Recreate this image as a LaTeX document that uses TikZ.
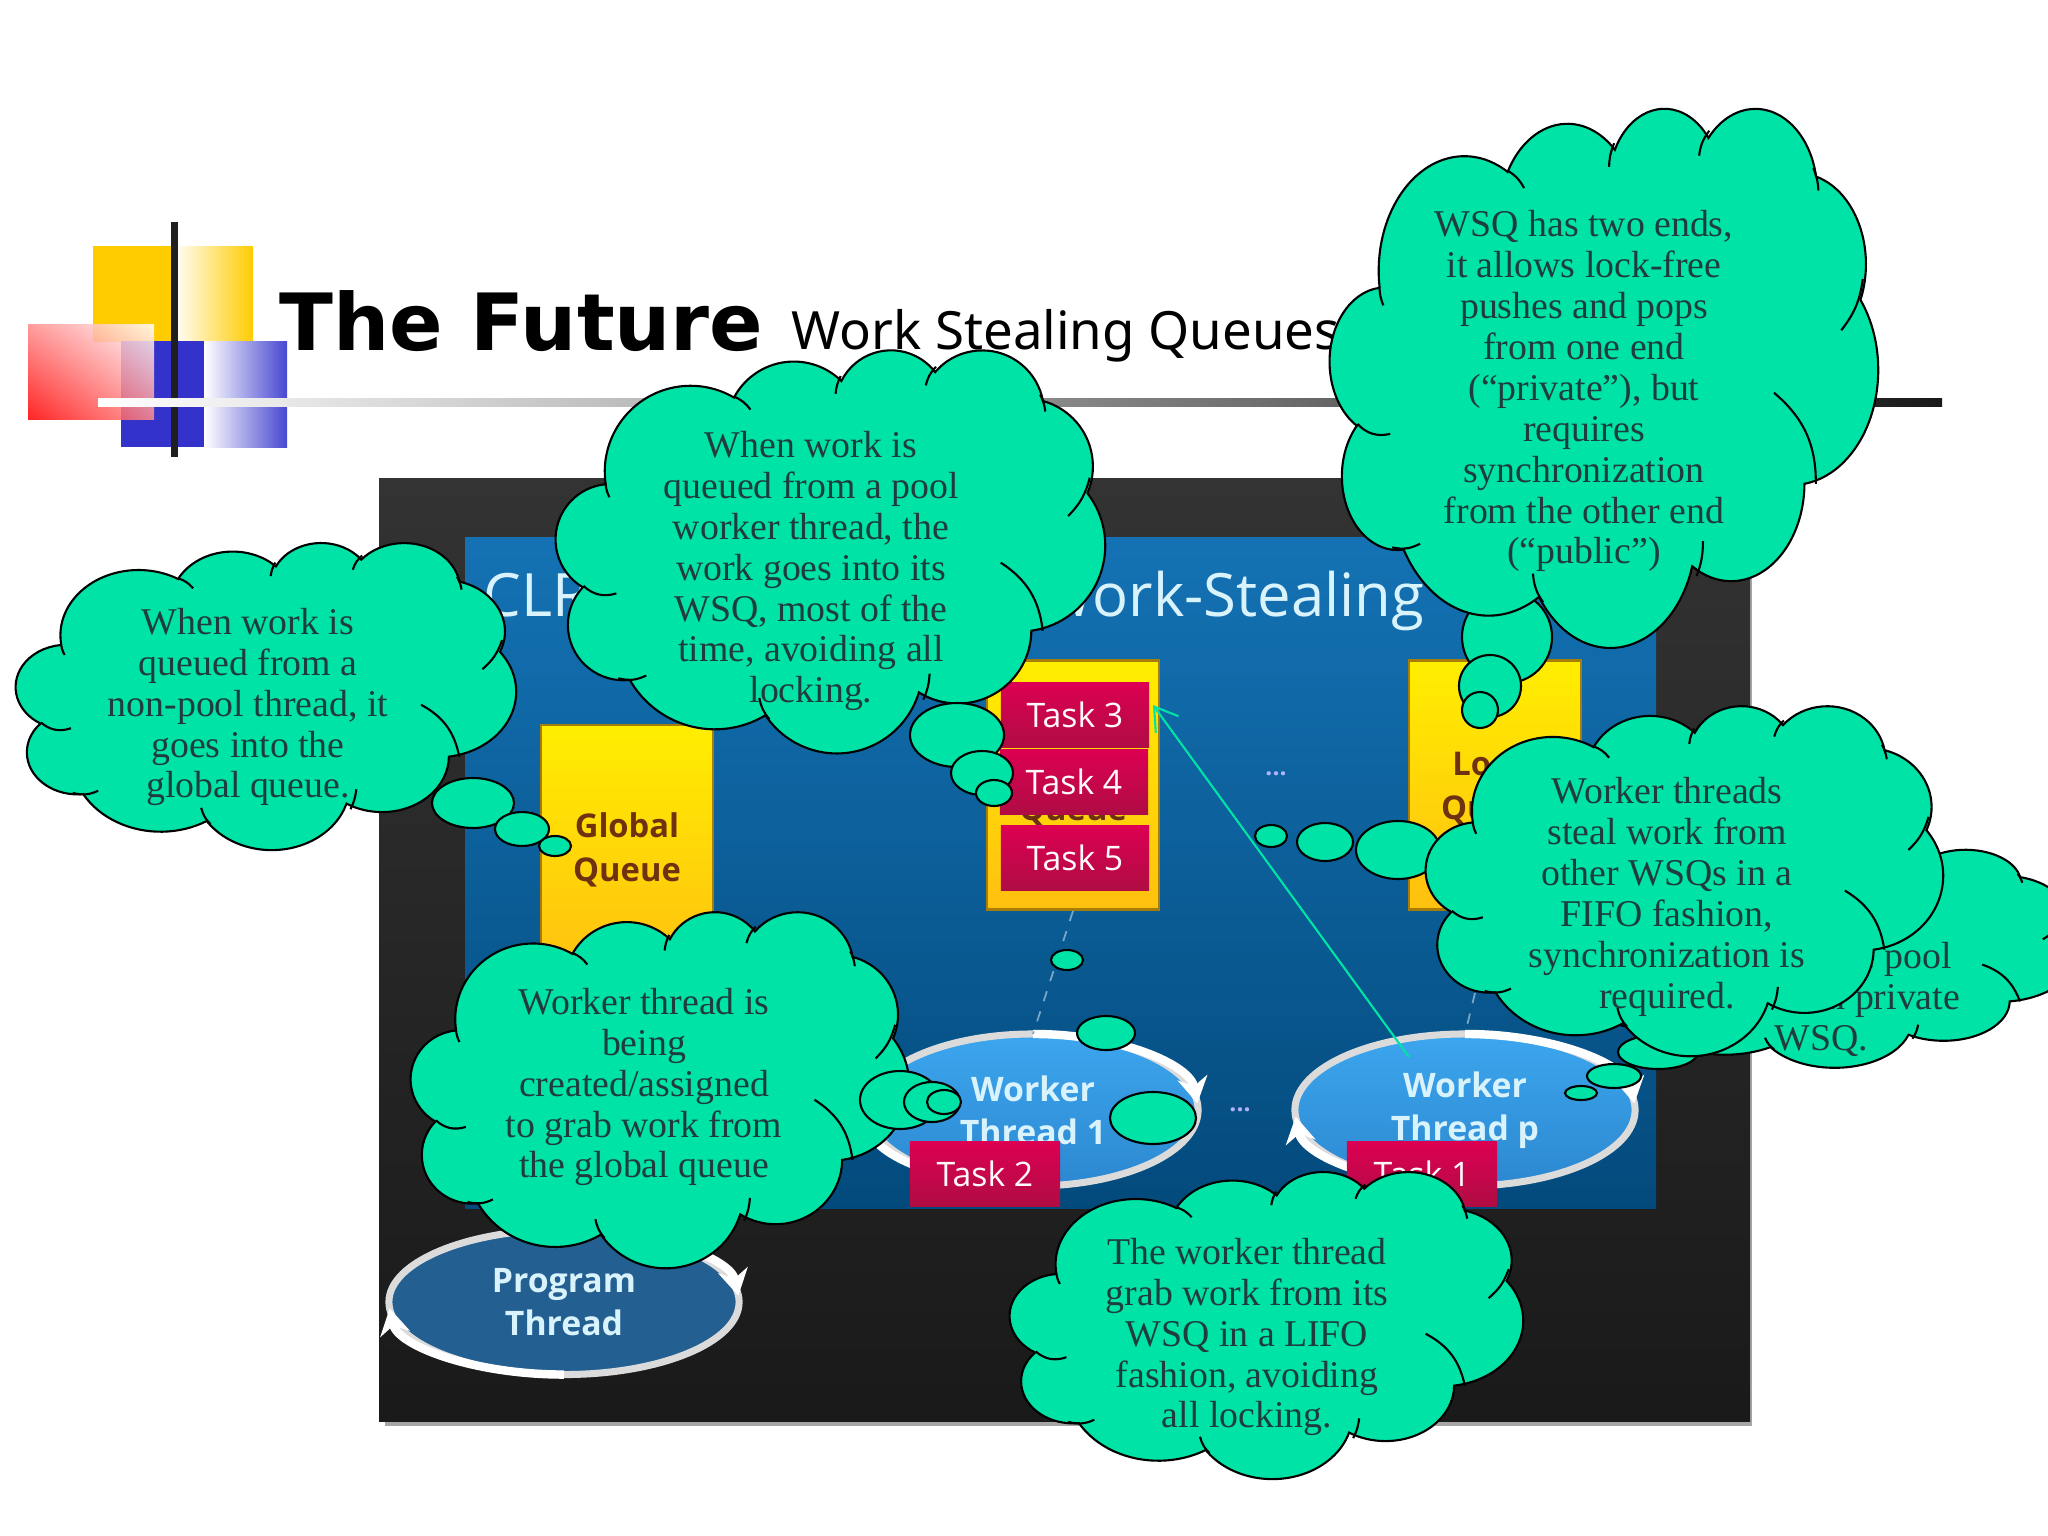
\documentclass[tikz,border=0pt]{standalone}
\usepackage{fontspec}
\usetikzlibrary{shapes.geometric,shadings,arrows.meta}
\setmainfont{Liberation Serif}
\newfontfamily\slidefont{Open Sans}
\newfontfamily\titlefont{DejaVu Sans}
\newfontfamily\subtitlefont{Noto Sans}

\definecolor{cloudgreen}{HTML}{00E3A6}
\definecolor{cloudtext}{HTML}{1F3D3D}
\definecolor{panelhigh}{HTML}{1472B4}
\definecolor{panelmid}{HTML}{075F9E}
\definecolor{panellow}{HTML}{034A7C}
\definecolor{taskhigh}{HTML}{DC0052}
\definecolor{tasklow}{HTML}{B00C44}
\definecolor{queuehigh}{HTML}{FFEE00}
\definecolor{queuelow}{HTML}{FFC010}
\definecolor{queuetext}{HTML}{6E3210}
\definecolor{workerhigh}{HTML}{3CA6EE}
\definecolor{workerlow}{HTML}{2C88D0}
\definecolor{programblue}{HTML}{235F90}
\definecolor{logoyellow}{HTML}{FFCC00}
\definecolor{logoblue}{HTML}{3333CC}

\tikzset{
  cloudline/.style={draw=black, line width=0.6pt, fill=cloudgreen},
  cloudlabel/.style={align=center, text=cloudtext, font=\fontsize{10.75}{11.65}\selectfont},
  queuebox/.style={rectangle, draw=black!35!queuelow, line width=0.8pt, top color=queuehigh, bottom color=queuelow, minimum width=1.72cm, align=center, text=queuetext, font=\slidefont\bfseries\fontsize{9.3}{12.4}\selectfont},
  taskbox/.style={rectangle, top color=taskhigh, bottom color=tasklow, minimum width=1.48cm, minimum height=0.64cm, text=white!90!pink, font=\slidefont\fontsize{9.6}{11}\selectfont},
  threadnode/.style={ellipse, draw=white!72!gray, top color=workerhigh, bottom color=workerlow, line width=2pt, inner sep=0pt, outer sep=0pt, align=center, text=white!85!cyan, font=\slidefont\bfseries\fontsize{9.6}{12.2}\selectfont},
  threadarrow/.style={draw=white, line width=2.4pt, -{Stealth[length=0.26cm, width=0.3cm]}},
  linkline/.style={draw=white!45!panelmid, dashed, line width=0.5pt},
  stealline/.style={draw=cloudgreen, line width=0.6pt, -{Straight Barb[length=0.22cm, width=0.28cm]}},
  dotlabel/.style={text=white!70!blue, font=\slidefont\bfseries\fontsize{7}{8}\selectfont},
}

% outline of one cloud, inside the box (x0,y0) (x1,y1)
\newcommand{\cloudoutline}[4]{%
  \begin{scope}[shift={(#1,#2)}, x={0.01cm*(#3-#1)/432}, y={-0.01cm*(#4-#2)/432}]
    \path[cloudline] (39,143.7)
      \foreach \a/\b/\s/\d in {67.53/91.9/-190.487/123.781, 53.33/72.67/-144.102/89.945,
        43.65/59.45/-145.808/99.723, 48.57/65.95/-130.991/117.242, 53.33/72.73/-78.709/109.027,
        67.75/92.2/-46.267/130.269, 57.85/78.67/0.625/114.033, 67.52/92.15/22.452/115.173,
        77.2/105.43/66.243/75.711, 43.6/59.18/-274.942/146.736, 43.45/59.45/-246.829/152.519}
      { arc[x radius=\a, y radius=\b, start angle={atan2(\a*sin(\s),\b*cos(\s))},
            delta angle={Mod(atan2(\a*sin(\s+\d),\b*cos(\s+\d))-atan2(\a*sin(\s),\b*cos(\s)),360)}] }
      -- cycle;
    \foreach \p/\q/\r/\t/\bendleft in {39/144/42/159/-10, 47.5/262/21.6/254/30, 71/350/49/353/20,
        160/374/168/397/-15, 294/348/289/376/10, 350/229/383/302/25, 420/138/403/179/15,
        381/49/385/67/10, 291/39/299/19/15, 220/48/224/29/10, 140/51/153/65/15}
      \draw[line width=0.6pt] (\p,\q) to[bend left=\bendleft] (\r,\t);
  \end{scope}}

\begin{document}
\begin{tikzpicture}[x=0.01cm, y=-0.01cm]
  \useasboundingbox (0,0) rectangle (2048,1536);
  \fill[white] (0,0) rectangle (2048,1536);

  % Logo
  \fill[logoyellow] (93,246) rectangle (173,342);
  \shade[left color=white, right color=logoyellow] (173,246) rectangle (253,342);
  \fill[logoblue] (121,341) rectangle (204,447);
  \shade[left color=white, right color=logoblue!90!white] (204,341) rectangle (287,447);
  \shade[opacity=0.85, lower left=red, upper right=white, upper left=red!45!white, lower right=red!45!white] (28,324) rectangle (154,419);
  \fill[black!88] (171,222) rectangle (178,457);

  % Title
  \shade[left color=white, middle color=black!25, right color=black!90] (98,398) rectangle (1942,406);
  \node[anchor=base west, inner sep=0pt, font=\titlefont\bfseries\fontsize{22.45}{26}\selectfont] (title) at (279,350) {The Future};
  \node[anchor=base west, inner sep=0pt, font=\subtitlefont\fontsize{15}{18}\selectfont] (subtitle) at (791,349) {Work Stealing Queues};

  % Screenshot
  \fill[black!35] (385,484) rectangle (1752,1426);
  \shade[top color=black!80, bottom color=black!90] (379,478) rectangle (1750,1421);
  \shade[top color=panelhigh, middle color=panelmid, bottom color=panellow] (465,537) rectangle (1656,1208);
  \node[anchor=base west, inner sep=0pt, text=white!85!cyan, font=\slidefont\fontsize{17}{20}\selectfont] (panelleft) at (483,616) {CLR};
  \node[anchor=base east, inner sep=0pt, text=white!85!cyan, font=\slidefont\fontsize{17}{20}\selectfont] (panelright) at (1425,616) {Work-Stealing};

  % Queues
  \node[queuebox, minimum height=2.5cm] (globalq) at (627,850) {Global\\Queue};
  \node[queuebox, minimum height=2.49cm] (localq) at (1073,785) {};
  \node[queuebox, minimum height=2.49cm] (localp) at (1495,785) {};
  \node[text=queuetext, font=\slidefont\bfseries\fontsize{9.3}{12.4}\selectfont] (localqtext) at (1073,811) {Queue};
  \node[align=center, text=queuetext, font=\slidefont\bfseries\fontsize{9.3}{12.4}\selectfont] (localptext) at (1495,788) {Local\\Queue};

  % Tasks
  \node[taskbox] (taskthree) at (1075,715) {Task 3};
  \node[taskbox] (taskfour) at (1074,782) {Task 4};
  \node[taskbox] (taskfive) at (1075,858) {Task 5};

  % Threads
  \node[threadnode, minimum width=3.3cm, minimum height=1.52cm] (workerone) at (1033,1110) {Worker\\Thread 1};
  \node[threadnode, minimum width=3.4cm, minimum height=1.52cm] (workerp) at (1465,1110) {Worker\\Thread p};
  \node[threadnode, top color=programblue, bottom color=programblue, minimum width=3.5cm, minimum height=1.45cm] (program) at (564,1302) {Program\\Thread};
  \foreach \n/\rx/\ry in {workerone/165/76, workerp/170/76, program/175/72.5} {
    \draw[threadarrow] (\n.north) arc[start angle=-90, delta angle=85, x radius=\rx, y radius=\ry];
    \draw[threadarrow] (\n.south) arc[start angle=90, delta angle=85, x radius=\rx, y radius=\ry];
  }
  \node[taskbox, minimum width=1.5cm] (tasktwo) at (985,1174) {Task 2};
  \node[taskbox, minimum width=1.5cm] (taskone) at (1422,1174) {Task 1};

  % Links
  \draw[linkline] (localq.south) -- (workerone.north);
  \draw[linkline] (localp.south) -- (workerp.north);
  \coordinate (stealtip) at (1153,705);
  \coordinate (stealstart) at (1409,1057);
  \draw[stealline] (stealstart) -- (stealtip);
  \node[dotlabel] (dotsupper) at (1276,774) {...};
  \node[dotlabel] (dotslower) at (1240,1110) {...};

  % Cloud over the global queue
  \cloudoutline{16}{542}{516}{849}
  \node[cloudlabel] (cloudglobal) at (248,707) {When work is\\queued from a\\non-pool thread, it\\goes into the\\global queue.};
  \foreach \x/\y/\rx/\ry in {473/803/41/25, 522/829/27/17, 555/846/16/10}
    \draw[cloudline] (\x,\y) ellipse ({\rx} and {\ry});

  % Cloud over the title
  \foreach \x/\y/\rx/\ry in {1507/637/45/46, 1490/686/31/31, 1480/710/18/18}
    \draw[cloudline] (\x,\y) ellipse ({\rx} and {\ry});
  \cloudoutline{1330}{107}{1878}{646}
  \node[cloudlabel] (cloudends) at (1584,391) {WSQ has two ends,\\it allows lock-free\\pushes and pops\\from one end\\(“private”), but\\requires\\synchronization\\from the other end\\(“public”)};

  % Cloud for the local queue
  \cloudoutline{556}{349}{1105}{752}
  \node[cloudlabel] (cloudpool) at (811,571) {When work is\\queued from a pool\\worker thread, the\\work goes into its\\WSQ, most of the\\time, avoiding all\\locking.};
  \foreach \x/\y/\rx/\ry in {957/735/47/32, 982/773/31/22, 994/793/18/13}
    \draw[cloudline] (\x,\y) ellipse ({\rx} and {\ry});

  % Cloud behind the stealing one
  \foreach \x/\y/\rx/\ry in {1658/1052/40/17, 1614/1076/27/12, 1581/1093/16/7}
    \draw[cloudline] (\x,\y) ellipse ({\rx} and {\ry});
  \cloudoutline{1582}{849}{2076}{1067}
  \node[cloudlabel, anchor=base west, inner sep=0pt] (backlineone) at (1858,968) {e pool};
  \node[cloudlabel, anchor=base west, inner sep=0pt] (backlinetwo) at (1826,1009) {n private};
  \node[cloudlabel, anchor=base west, inner sep=0pt] (backlinethree) at (1774,1050) {WSQ.};

  % Cloud for the stealing
  \foreach \x/\y/\rx/\ry in {1271/836/16/11, 1325/842/28/19, 1398/850/42/29}
    \draw[cloudline] (\x,\y) ellipse ({\rx} and {\ry});
  \cloudoutline{1426}{705}{1943}{1055}
  \node[cloudlabel] (cloudsteal) at (1667,897) {Worker threads\\steal work from\\other WSQs in a\\FIFO fashion,\\synchronization is\\required.};

  % Cloud for the worker thread
  \cloudoutline{411}{911}{909}{1267}
  \node[cloudlabel] (cloudgrab) at (644,1087) {Worker thread is\\being\\created/assigned\\to grab work from\\the global queue};
  \foreach \x/\y/\rx/\ry in {900/1100/40/29, 932/1102/28/20, 944/1102/17/12}
    \draw[cloudline] (\x,\y) ellipse ({\rx} and {\ry});

  % Cloud for the LIFO end
  \foreach \x/\y/\rx/\ry in {1153/1118/43/26, 1106/1033/29/17, 1067/960/16/10}
    \draw[cloudline] (\x,\y) ellipse ({\rx} and {\ry});
  \cloudoutline{1010}{1171}{1523}{1478}
  \node[cloudlabel] (cloudlifo) at (1247,1337) {The worker thread\\grab work from its\\WSQ in a LIFO\\fashion, avoiding\\all locking.};
\end{tikzpicture}
\end{document}
